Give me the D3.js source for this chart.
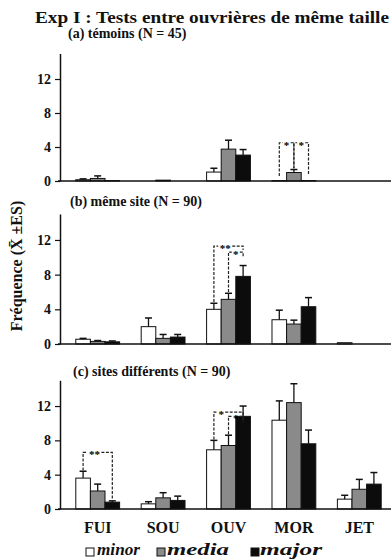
<!DOCTYPE html>
<html><head><meta charset="utf-8">
<script src="https://cdn.jsdelivr.net/npm/d3@7"></script>
<style>body{margin:0;background:#fff}</style>
</head><body>
<svg id="chart" width="391" height="560"></svg>
<script>
// ---------- DATA ----------
const categories = ["FUI", "SOU", "OUV", "MOR", "JET"];
const series = ["minor", "media", "major"];
const yTicks = [0, 4, 8, 12];
const chartTitle = "Exp I : Tests entre ouvrières de même taille";
const panelTitles = ["(a) témoins (N = 45)", "(b) même site (N = 90)", "(c) sites différents (N = 90)"];
const yLabel = "Fréquence (X\u0304 ±ES)";

// means per series (minor, media, major) for each category
const meansA = [[0.15, 0, 1.05, 0.05, 0], [0.3, 0.1, 3.75, 1.0, 0], [0.05, 0, 3.05, 0.05, 0]];
const seA    = [[0.1, 0, 0.45, 0, 0], [0.3, 0, 1.05, 0.35, 0], [0, 0, 0.65, 0, 0]];
const meansB = [[0.55, 2.0, 4.0, 2.8, 0.15], [0.3, 0.65, 5.15, 2.3, 0], [0.25, 0.8, 7.8, 4.3, 0]];
const seB    = [[0.1, 1.0, 0.7, 1.1, 0], [0.1, 0.45, 0.7, 0.45, 0], [0.1, 0.3, 1.25, 1.05, 0]];
const meansC = [[3.6, 0.6, 6.9, 10.35, 1.15], [2.1, 1.3, 7.4, 12.4, 2.3], [0.8, 1.0, 10.8, 7.6, 2.9]];
const seC    = [[0.8, 0.25, 1.1, 2.25, 0.45], [0.8, 0.6, 1.2, 2.2, 1.15], [0.15, 0.5, 1.2, 1.6, 1.35]];

// significance brackets: panel, category, from series, to series, top value, leg ends, stars
const brackets = [
  {panel: 0, cat: "MOR", from: "minor", to: "media", top: 4.5, lb: 0.6, rb: 1.5, stars: "*"},
  {panel: 0, cat: "MOR", from: "media", to: "major", top: 4.5, lb: 1.5, rb: 0.7, stars: "*"},
  {panel: 1, cat: "OUV", from: "minor", to: "major", top: 11.3, lb: 4.85, rb: 10.85, stars: "**"},
  {panel: 1, cat: "OUV", from: "media", to: "major", top: 10.6, lb: 6.0, rb: 10.05, stars: "*"},
  {panel: 2, cat: "FUI", from: "minor", to: "major", top: 6.6, lb: 4.5, rb: 1.05, stars: "**"},
  {panel: 2, cat: "OUV", from: "minor", to: "major", top: 11.3, lb: 8.1, rb: 10.1, stars: "*"},
  {panel: 2, cat: "OUV", from: "media", to: "major", top: 10.8, lb: 8.7, rb: 10.1, stars: "*"}
];

// ---------- LAYOUT ----------
const FONT = "'Liberation Serif', 'Times New Roman', serif";
const panelData = [
  {means: meansA, se: seA},
  {means: meansB, se: seB},
  {means: meansC, se: seC}
];
const layout = [
  {base: 181, k: 8.5, titleY: 38, titleX: 68},
  {base: 344, k: 8.67, titleY: 206, titleX: 70},
  {base: 509, k: 8.58, titleY: 376, titleX: 73}
];
const fills = {minor: "#ffffff", media: "#8a8a8a", major: "#0c0c0c"};

const svg = d3.select("#chart");
svg.append("rect").attr("width", 391).attr("height", 560).attr("fill", "#fff");

function txt(sel, size) {
  return sel.style("font-family", FONT).style("font-weight", "bold").style("font-size", size + "px").style("fill", "#111");
}

const x = d3.scaleBand().domain(categories).range([65, 392]).paddingInner(0.33).paddingOuter(0.165);
const xs = d3.scaleBand().domain(series).range([0, x.bandwidth()]);

txt(svg.append("text").attr("x", 35).attr("y", 23), 17.5)
  .attr("textLength", 354).attr("lengthAdjust", "spacingAndGlyphs").text(chartTitle);

txt(svg.append("text").attr("transform", "translate(22,266) rotate(-90)")
  .attr("text-anchor", "middle"), 16).text(yLabel);

panelData.forEach((pd, pi) => {
  const L = layout[pi];
  const y = d3.scaleLinear().domain([0, 15]).range([L.base, L.base - 15 * L.k]);
  const g = svg.append("g");

  txt(g.append("text").attr("x", L.titleX).attr("y", L.titleY), 14).text(panelTitles[pi]);

  // y axis
  const ya = g.append("g").attr("transform", "translate(60,0)")
    .call(d3.axisLeft(y).tickValues(yTicks).tickSize(5).tickSizeOuter(0).tickPadding(4).tickFormat(d3.format("d")));
  ya.select(".domain").attr("stroke", "#111").attr("stroke-width", 1.5);
  ya.selectAll(".tick line").attr("stroke", "#111").attr("stroke-width", 1.2);
  txt(ya.selectAll(".tick text"), 14);

  // bars
  series.forEach((s, si) => {
    const rows = categories.map((c, ci) => ({c, v: pd.means[si][ci], e: pd.se[si][ci]}));
    g.selectAll(null).data(rows).enter().append("rect")
      .attr("x", d => x(d.c) + xs(s))
      .attr("width", xs.bandwidth())
      .attr("y", d => y(d.v))
      .attr("height", d => y(0) - y(d.v))
      .attr("fill", fills[s]).attr("stroke", "#111").attr("stroke-width", 1);
    const eb = rows.filter(d => d.e > 0);
    const cx = d => x(d.c) + xs(s) + xs.bandwidth() / 2;
    g.selectAll(null).data(eb).enter().append("line")
      .attr("x1", cx).attr("x2", cx).attr("y1", d => y(d.v)).attr("y2", d => y(d.v + d.e))
      .attr("stroke", "#111").attr("stroke-width", 1.3);
    g.selectAll(null).data(eb).enter().append("line")
      .attr("x1", d => cx(d) - 3.5).attr("x2", d => cx(d) + 3.5)
      .attr("y1", d => y(d.v + d.e)).attr("y2", d => y(d.v + d.e))
      .attr("stroke", "#111").attr("stroke-width", 1.5);
  });

  // x axis line
  g.append("line").attr("x1", 58).attr("x2", 391).attr("y1", y(0)).attr("y2", y(0))
    .attr("stroke", "#111").attr("stroke-width", 1.6);

  // brackets
  brackets.filter(b => b.panel === pi).forEach(b => {
    const xl = x(b.cat) + xs(b.from) + xs.bandwidth() / 2;
    const xr = x(b.cat) + xs(b.to) + xs.bandwidth() / 2;
    const yt = y(b.top);
    let sx = (xl + xr) / 2;
    if (b.from === "minor" && b.to === "major")
      sx = x(b.cat) + xs("media") + (b.stars.length - 1) * 4;
    const sw = b.stars.length * 6 + 2;
    g.append("path")
      .attr("d", `M${xl},${y(b.lb)}V${yt}H${sx - sw / 2}M${sx + sw / 2},${yt}H${xr}V${y(b.rb)}`)
      .attr("fill", "none").attr("stroke", "#222").attr("stroke-width", 1.2)
      .attr("stroke-dasharray", "3,1.5");
    txt(g.append("text").attr("x", sx).attr("y", yt + 6).attr("text-anchor", "middle"), 11)
      .style("fill", "#000").text(b.stars);
  });

  if (pi === 2) {
    const xa = g.append("g").attr("transform", `translate(0,${y(0)})`)
      .call(d3.axisBottom(x).tickSize(0).tickPadding(13));
    xa.select(".domain").remove();
    txt(xa.selectAll(".tick text"), 16);
  }
});

// legend
const legendPos = [{sq: 86, tx: 97, len: 43}, {sq: 157, tx: 167, len: 62}, {sq: 251, tx: 260, len: 62}];
series.forEach((s, i) => {
  const p = legendPos[i];
  svg.append("rect").attr("x", p.sq).attr("y", 548).attr("width", 8).attr("height", 8)
    .attr("fill", fills[s]).attr("stroke", "#111").attr("stroke-width", 1);
  txt(svg.append("text").attr("x", p.tx).attr("y", 555), 17).style("font-style", "italic")
    .attr("textLength", p.len).attr("lengthAdjust", "spacingAndGlyphs").text(s);
});
</script>
</body></html>
